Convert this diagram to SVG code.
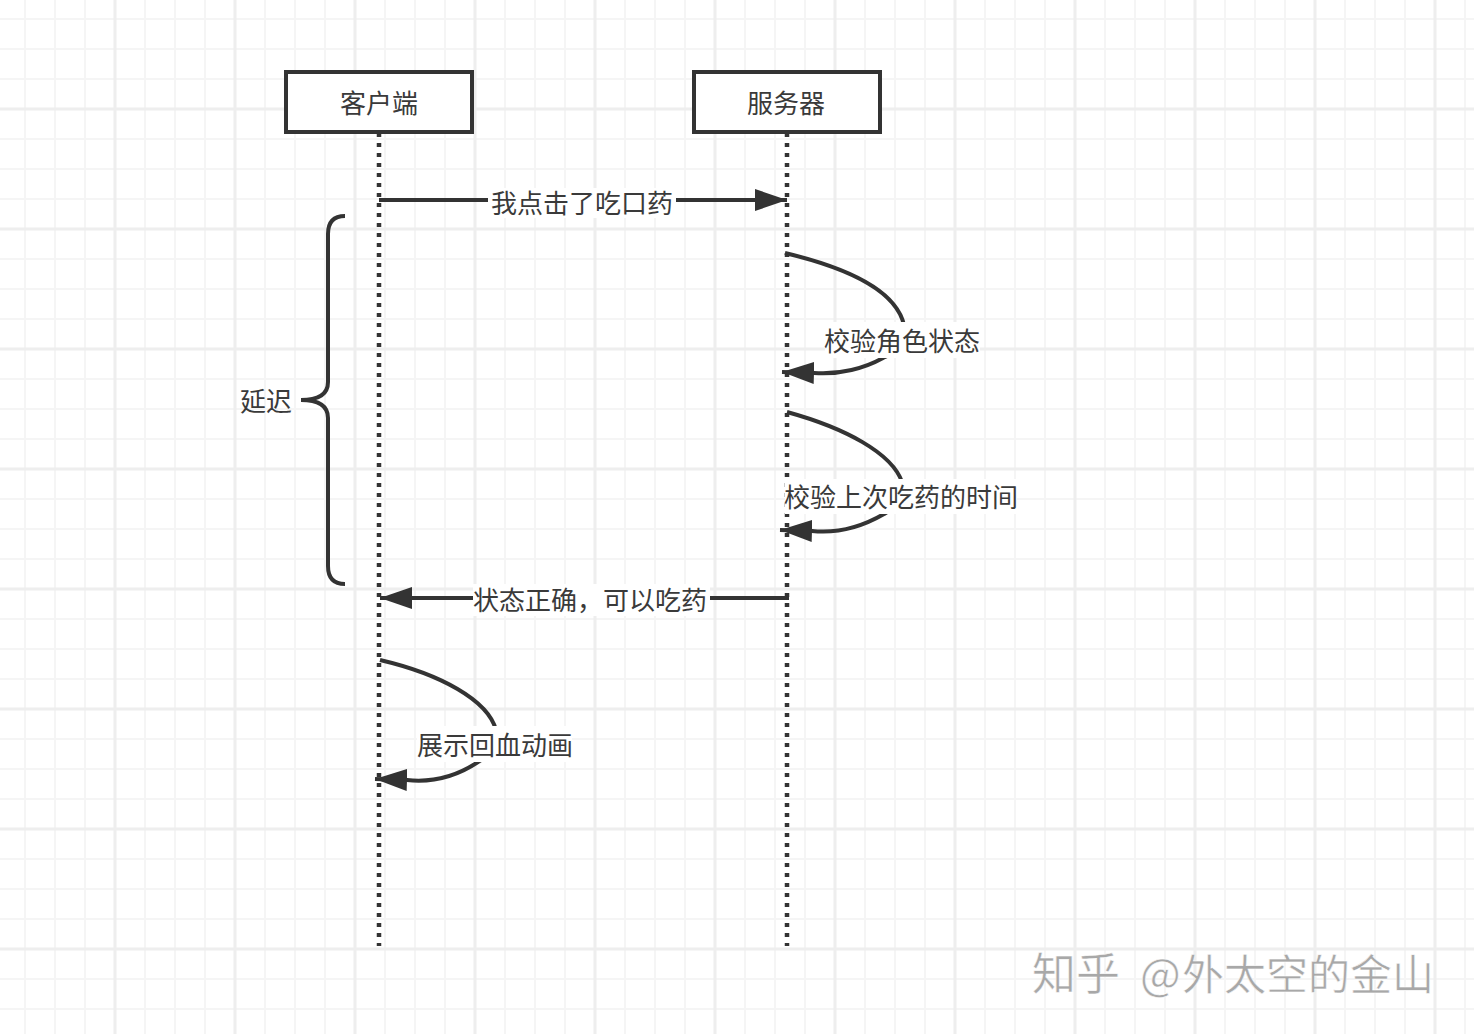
<svg xmlns="http://www.w3.org/2000/svg" width="1474" height="1034" viewBox="0 0 1474 1034">
<defs>
<pattern id="minor" width="30" height="30" patternUnits="userSpaceOnUse" x="10" y="4">
<path d="M15 0V30M0 15H30" fill="none" stroke="#f5f5f5" stroke-width="2"/>
</pattern>
<pattern id="major" width="120" height="120" patternUnits="userSpaceOnUse" x="55" y="49">
<path d="M60 0V120M0 60H120" fill="none" stroke="#eeeeee" stroke-width="3"/>
</pattern>
<marker id="arrow" markerUnits="userSpaceOnUse" markerWidth="34" markerHeight="24" refX="32" refY="12" orient="auto">
<path d="M0 1L32 12L0 23Z" fill="#333"/>
</marker>
</defs>
<style>
.t{font-family:"Noto Sans CJK SC","Noto Sans",sans-serif;font-size:26px;fill:#3a3a3a;text-anchor:middle}
.box{fill:#fff;stroke:#333;stroke-width:4}
.life{fill:none;stroke:#333;stroke-width:4.500;stroke-dasharray:4 6}
.c{fill:none;stroke:#333;stroke-width:4}
.bg{fill:#fff}
</style>
<rect width="1474" height="1034" fill="#fff"/>
<rect width="1474" height="1034" fill="url(#minor)"/>
<rect width="1474" height="1034" fill="url(#major)"/>
<g id="connectors">
<path class="life" d="M379 133V946"/>
<path class="life" d="M787 133V946"/>
<path class="c" d="M379 200H787" marker-end="url(#arrow)"/>
<path class="c" d="M789 598H380" marker-end="url(#arrow)"/>
<path class="c" d="M785 253C848 268 896 290 904 325C900 350 890 355 883 358C865 368 840 375 814 373L782 372" marker-end="url(#arrow)"/>
<path class="c" d="M787 412C845 428 892 453 902 482C898 508 890 511 884 514C865 525 840 534 812 531L780 530" marker-end="url(#arrow)"/>
<path class="c" d="M380 660C440 674 488 700 496 730C490 755 484 759 478 762C460 774 435 783 407 780L375 779" marker-end="url(#arrow)"/>
<path class="c" d="M345 216Q328 216 328 234V382Q328 400 301 400Q328 400 328 418V566Q328 584 345 584"/>
</g>
<g id="node-client"><rect class="box" x="286" y="72" width="186" height="60"/><text class="t" x="379" y="113">客户端</text></g>
<g id="node-server"><rect class="box" x="694" y="72" width="186" height="60"/><text class="t" x="786" y="113">服务器</text></g>
<g id="label-1"><rect class="bg" x="488" y="188" width="188" height="30"/><text class="t" x="582" y="213">我点击了吃口药</text></g>
<g id="label-2"><rect class="bg" x="825" y="322" width="155" height="36"/><text class="t" x="902" y="351">校验角色状态</text></g>
<g id="label-3"><rect class="bg" x="785" y="479" width="232" height="35"/><text class="t" x="901" y="507">校验上次吃药的时间</text></g>
<g id="label-4"><rect class="bg" x="473" y="584" width="237" height="32"/><text class="t" x="590" y="610">状态正确&#65292;可以吃药</text></g>
<g id="label-5"><rect class="bg" x="417" y="726" width="155" height="36"/><text class="t" x="495" y="755">展示回血动画</text></g>
<g id="label-delay"><text class="t" x="266" y="411">延迟</text></g>
<g id="watermark"><text y="990" style="font-family:'Noto Sans CJK SC',sans-serif;font-size:42px;fill:#a8a8a8;stroke:#fff;stroke-width:.5"><tspan x="1032" style="font-size:44px">知乎</tspan><tspan x="1140" style="font-size:43px">@</tspan><tspan x="1182">外太空的金山</tspan></text></g>
</svg>
